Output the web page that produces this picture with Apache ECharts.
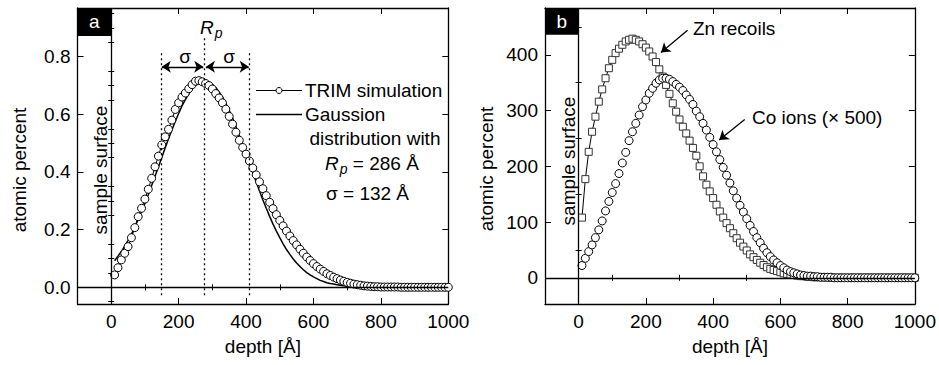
<!DOCTYPE html>
<html><head><meta charset="utf-8">
<script src="https://cdn.jsdelivr.net/npm/echarts@6/dist/echarts.min.js"></script>
<style>html,body{margin:0;padding:0;background:#fff}#c{width:939px;height:365px}</style>
</head><body><div id="c"></div>
<script>
// ---------------- data ----------------
const depth = [10,20,30,40,50,60,70,80,90,100,110,120,130,140,150,160,170,180,190,200,
210,220,230,240,250,260,270,280,290,300,310,320,330,340,350,360,370,380,390,400,
410,420,430,440,450,460,470,480,490,500,510,520,530,540,550,560,570,580,590,600,
610,620,630,640,650,660,670,680,690,700,710,720,730,740,750,760,770,780,790,800,
810,820,830,840,850,860,870,880,890,900,910,920,930,940,950,960,970,980,990,1000];

// panel a: TRIM simulation (atomic percent)
const trimSim = [0.043,0.068,0.095,0.118,0.141,0.172,0.207,0.245,0.274,0.306,
0.340,0.378,0.418,0.455,0.494,0.522,0.548,0.580,0.617,0.640,
0.660,0.674,0.689,0.703,0.715,0.717,0.713,0.707,0.700,0.688,
0.672,0.657,0.640,0.618,0.593,0.566,0.538,0.510,0.485,0.462,
0.438,0.414,0.390,0.366,0.342,0.318,0.295,0.273,0.252,0.232,
0.213,0.195,0.178,0.162,0.147,0.132,0.118,0.105,0.093,0.082,
0.072,0.063,0.055,0.047,0.041,0.035,0.030,0.025,0.021,0.017,
0.014,0.011,0.009,0.007,0.005,0.004,0.003,0.002,0.002,0.001,
0.001,0.001,0.001,0.001,0.001,0,0,0,0,0,
0,0,0,0,0,0,0,0,0,0];

// panel a: Gaussian distribution (line)
const gaussFit = [0.092,0.108,0.124,0.143,0.163,0.185,0.209,0.235,0.262,0.291,
0.321,0.353,0.385,0.417,0.450,0.483,0.515,0.546,0.575,0.603,
0.629,0.651,0.671,0.688,0.700,0.709,0.714,0.715,0.712,0.704,
0.693,0.678,0.660,0.638,0.614,0.587,0.558,0.527,0.496,0.463,
0.430,0.398,0.365,0.334,0.303,0.274,0.246,0.219,0.195,0.172,
0.151,0.131,0.114,0.098,0.084,0.072,0.061,0.051,0.043,0.036,
0.030,0.024,0.020,0.016,0.013,0.011,0.009,0.007,0.005,0.004,
0.003,0.003,0.002,0.002,0.001,0.001,0.001,0,0,0,
0,0,0,0,0,0,0,0,0,0,
0,0,0,0,0,0,0,0,0,0];

// panel b: Zn recoils
const znRecoils = [108,177,226,262,289,316,338,358,376,391,
403,411,418,424,427,429,427,424,419,413,
406,397,387,374,361,346,330,313,298,284,
271,259,246,233,219,200,182,167,155,143,
131,119,108,98,89,80,71,63,56,49,
42,37,32,27,23,19,16,14,12,10,
8,7,6,5,4,3,3,2,2,1,
1,1,1,1,0,0,0,0,0,0,
0,0,0,0,0,0,0,0,0,0,
0,0,0,0,0,0,0,0,0,0];

// panel b: Co ions (x 500)
const coIons = [22,35,47,59,72,86,102,120,137,153,
169,187,206,225,246,262,277,292,307,319,
331,340,349,355,358,358,356,352,347,342,
336,328,320,311,299,289,277,265,252,239,
226,212,198,184,170,156,143,130,118,106,
94,83,72,63,53,45,38,32,27,22,
18,14,11,9,7,5,4,3,3,2,
2,1,1,1,1,0,0,0,0,0,
0,0,0,0,0,0,0,0,0,0,
0,0,0,0,0,0,0,0,0,0];

// ticks
const xMajor = [0,200,400,600,800,1000];
const xMinor = [100,300,500,700,900];
const yMajorA = [0,0.2,0.4,0.6,0.8];
const yMinorA = [-0.05,0.05,0.1,0.15,0.25,0.3,0.35,0.45,0.5,0.55,0.65,0.7,0.75,0.85,0.9,0.95];
const yMajorB = [0,100,200,300,400];
const yMinorB = [50,150,250,350,450];

// annotation values (panel a)
const sigmaLines = [148, 277, 410];
const arrowLevel = 0.765;

// ---------------- chart ----------------
const FONT = "'Liberation Sans', Arial, Helvetica, sans-serif";
const FS = 19;
const chart = echarts.init(document.getElementById('c'), null, {renderer:'svg', width:939, height:365});

const grids = [
  {left:77.5, top:8, width:370.8, height:296, containLabel:false},
  {left:545, top:8, width:371.7, height:296, containLabel:false}
];
const ranges = [
  {xmin:-100, xmax:1000, ymin:-0.058, ymax:0.969, yMaj:yMajorA, yMin:yMinorA, fmt:v=>v.toFixed(1)},
  {xmin:-100, xmax:1000, ymin:-47, ymax:484, yMaj:yMajorB, yMin:yMinorB, fmt:v=>String(v)}
];

const xAxes = [], yAxes = [];
const lineStyle = {color:'#000', width:1.3};
const tickStyle = {color:'#000', width:1};
const lbl = {color:'#000', fontSize:FS, fontFamily:FONT};
ranges.forEach((r, g) => {
  // x: bottom major, bottom minor, top major, top minor
  xAxes.push({gridIndex:g, type:'value', position:'bottom', min:r.xmin, max:r.xmax,
    axisLine:{show:true, onZero:false, lineStyle},
    axisTick:{show:true, inside:true, length:6, customValues:xMajor, lineStyle:tickStyle},
    axisLabel:{show:true, customValues:xMajor, margin:8, formatter:v=>String(v), ...lbl},
    splitLine:{show:false},
    name:'depth [Å]', nameLocation:'middle', nameGap:33,
    nameTextStyle:{...lbl}});
  xAxes.push({gridIndex:g, type:'value', position:'bottom', min:r.xmin, max:r.xmax,
    axisLine:{show:false}, axisTick:{show:true, inside:true, length:3, customValues:xMinor, lineStyle:tickStyle},
    axisLabel:{show:false}, splitLine:{show:false}});
  xAxes.push({gridIndex:g, type:'value', position:'top', min:r.xmin, max:r.xmax,
    axisLine:{show:true, onZero:false, lineStyle},
    axisTick:{show:true, inside:true, length:6, customValues:xMajor, lineStyle:tickStyle},
    axisLabel:{show:false}, splitLine:{show:false}});
  xAxes.push({gridIndex:g, type:'value', position:'top', min:r.xmin, max:r.xmax,
    axisLine:{show:false}, axisTick:{show:true, inside:true, length:3, customValues:xMinor, lineStyle:tickStyle},
    axisLabel:{show:false}, splitLine:{show:false}});
  // y: left major, left minor, right major, right minor
  yAxes.push({gridIndex:g, type:'value', position:'left', min:r.ymin, max:r.ymax,
    axisLine:{show:true, onZero:false, lineStyle},
    axisTick:{show:true, inside:true, length:6, customValues:r.yMaj, lineStyle:tickStyle},
    axisLabel:{show:true, customValues:r.yMaj, margin:7, formatter:r.fmt, ...lbl},
    splitLine:{show:false}});
  yAxes.push({gridIndex:g, type:'value', position:'left', min:r.ymin, max:r.ymax,
    axisLine:{show:false}, axisTick:{show:true, inside:true, length:3, customValues:r.yMin, lineStyle:tickStyle},
    axisLabel:{show:false}, splitLine:{show:false}});
  yAxes.push({gridIndex:g, type:'value', position:'right', min:r.ymin, max:r.ymax,
    axisLine:{show:true, onZero:false, lineStyle},
    axisTick:{show:true, inside:true, length:6, customValues:r.yMaj, lineStyle:tickStyle},
    axisLabel:{show:false}, splitLine:{show:false}});
  yAxes.push({gridIndex:g, type:'value', position:'right', min:r.ymin, max:r.ymax,
    axisLine:{show:false}, axisTick:{show:true, inside:true, length:3, customValues:r.yMin, lineStyle:tickStyle},
    axisLabel:{show:false}, splitLine:{show:false}});
});

const pairs = (ys) => depth.map((d, i) => [d, ys[i]]);
const openSym = {color:'#fff', borderColor:'#000', borderWidth:1};

const series = [
  // ---- panel a ----
  {name:'helperA', type:'line', xAxisIndex:0, yAxisIndex:0, data:[], silent:true, z:2,
    markLine:{silent:true, symbol:'none', label:{show:false}, animation:false,
      lineStyle:{color:'#000', width:1.3, type:'solid'},
      data:[{yAxis:0},{xAxis:0}]},
    markArea:{silent:true, animation:false, itemStyle:{color:'#000'},
      label:{show:true, position:'inside', color:'#fff', fontSize:FS, fontFamily:FONT, formatter:'a'},
      data:[[{coord:[ranges[0].xmin, 0.872]},{coord:[0, ranges[0].ymax]}]]}},
  {name:'sigmaLines', type:'line', xAxisIndex:0, yAxisIndex:0, data:[], silent:true, z:2,
    markLine:{silent:true, symbol:'none', label:{show:false}, animation:false,
      lineStyle:{color:'#000', width:1.3, type:[2,3]},
      data:[
        [{coord:[sigmaLines[0], -0.028]},{coord:[sigmaLines[0], 0.815]}],
        [{coord:[sigmaLines[1], -0.028]},{coord:[sigmaLines[1], 0.87]}],
        [{coord:[sigmaLines[2], -0.028]},{coord:[sigmaLines[2], 0.815]}]
      ]}},
  {name:'sigmaArrows', type:'line', xAxisIndex:0, yAxisIndex:0, data:[], silent:true, z:2,
    markLine:{silent:true, symbol:['arrow','arrow'], symbolSize:9, label:{show:false}, animation:false,
      lineStyle:{color:'#000', width:1.3, type:'solid'},
      data:[
        [{coord:[sigmaLines[0]+2, arrowLevel]},{coord:[sigmaLines[1]-4, arrowLevel]}],
        [{coord:[sigmaLines[1]+4, arrowLevel]},{coord:[sigmaLines[2]-2, arrowLevel]}]
      ]}},
  {name:'Gaussion distribution', type:'line', xAxisIndex:0, yAxisIndex:0, data:pairs(gaussFit),
    symbol:'none', lineStyle:{color:'#000', width:1.5}, z:3, silent:true},
  {name:'TRIM simulation', type:'line', xAxisIndex:0, yAxisIndex:0, data:pairs(trimSim),
    symbol:'circle', symbolSize:8, showAllSymbol:true, itemStyle:openSym,
    lineStyle:{color:'#000', width:1}, z:4, silent:true},
  // ---- panel b ----
  {name:'helperB', type:'line', xAxisIndex:4, yAxisIndex:4, data:[], silent:true, z:2,
    markLine:{silent:true, symbol:'none', label:{show:false}, animation:false,
      lineStyle:{color:'#000', width:1.3, type:'solid'},
      data:[{yAxis:0},{xAxis:0}]},
    markArea:{silent:true, animation:false, itemStyle:{color:'#000'},
      label:{show:true, position:'inside', color:'#fff', fontSize:FS, fontFamily:FONT, formatter:'b'},
      data:[[{coord:[ranges[1].xmin, 436]},{coord:[0, ranges[1].ymax]}]]}},
  {name:'annotArrows', type:'line', xAxisIndex:4, yAxisIndex:4, data:[], silent:true, z:5,
    markLine:{silent:true, symbol:['none','arrow'], symbolSize:9, label:{show:false}, animation:false,
      lineStyle:{color:'#000', width:1.3, type:'solid'},
      data:[
        [{coord:[324, 444]},{coord:[245, 404]}],
        [{coord:[494, 284]},{coord:[418, 247]}]
      ]}},
  {name:'Zn recoils', type:'line', xAxisIndex:4, yAxisIndex:4, data:pairs(znRecoils),
    symbol:'rect', symbolSize:7, showAllSymbol:true,
    itemStyle:{color:'#fff', borderColor:'#333', borderWidth:1},
    lineStyle:{color:'#000', width:1}, z:3, silent:true},
  {name:'Co ions', type:'line', xAxisIndex:4, yAxisIndex:4, data:pairs(coIons),
    symbol:'circle', symbolSize:8, showAllSymbol:true, itemStyle:openSym,
    lineStyle:{width:0, opacity:0}, z:4, silent:true}
];

const txt = (x, y, text, extra) => ({type:'text', x, y, silent:true, z:100,
  style:Object.assign({text, fill:'#000', font:`${FS}px ${FONT}`, align:'left', verticalAlign:'middle'}, extra || {})});

const richRp = {
  i:{fontStyle:'italic', fontSize:FS, fontFamily:FONT, fill:'#000'},
  s:{fontStyle:'italic', fontSize:14, fontFamily:FONT, fill:'#000', padding:[11,0,0,1]},
  n:{fontSize:FS, fontFamily:FONT, fill:'#000'}
};

const graphic = [
  // panel a
  Object.assign(txt(100, 170, 'sample surface', {align:'center'}), {rotation:Math.PI/2}),
  Object.assign(txt(19, 170, 'atomic percent', {align:'center'}), {rotation:Math.PI/2}),
  txt(200, 27, '{i|R}{s|p}', {rich:richRp}),
  txt(185, 56, 'σ', {align:'center'}),
  txt(229, 56, 'σ', {align:'center'}),
  {type:'line', silent:true, z:100, shape:{x1:256, y1:90.5, x2:302, y2:90.5}, style:{stroke:'#000', lineWidth:1.2}},
  {type:'circle', silent:true, z:101, shape:{cx:279, cy:90.5, r:3}, style:{fill:'#fff', stroke:'#000', lineWidth:1}},
  txt(305, 90.5, 'TRIM simulation'),
  {type:'line', silent:true, z:100, shape:{x1:256, y1:114.5, x2:302, y2:114.5}, style:{stroke:'#000', lineWidth:1.5}},
  txt(305, 114.5, 'Gaussion'),
  txt(309.5, 138.5, 'distribution with'),
  txt(325, 163, '{i|R}{s|p}{n| = 286 Å}', {rich:richRp}),
  txt(326, 193, 'σ = 132 Å'),
  // panel b
  Object.assign(txt(568, 161, 'sample surface', {align:'center'}), {rotation:Math.PI/2}),
  Object.assign(txt(486, 169, 'atomic percent', {align:'center'}), {rotation:Math.PI/2}),
  txt(693, 28.5, 'Zn recoils'),
  txt(752, 117.5, 'Co ions (× 500)')
];

chart.setOption({
  animation:false,
  backgroundColor:'#fff',
  textStyle:{fontFamily:FONT},
  grid:grids,
  xAxis:xAxes,
  yAxis:yAxes,
  series:series,
  graphic:graphic
});
</script>
</body></html>
